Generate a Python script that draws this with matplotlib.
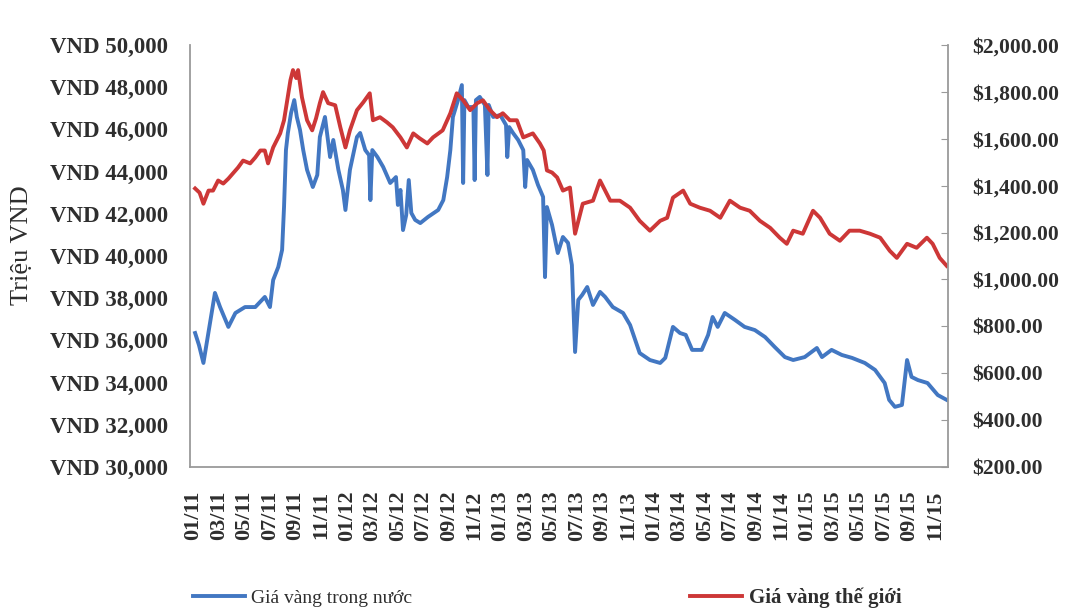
import matplotlib
matplotlib.use("Agg")
import matplotlib.pyplot as plt
from matplotlib.ticker import FuncFormatter
from matplotlib.lines import Line2D

# Domestic gold price (thousand VND), x in months since Jan 2011
dom_t = [0.15, 0.45, 0.8, 1.35, 1.7, 2.1, 2.75, 3.3, 4.05, 4.85,
         5.6, 6.0, 6.25, 6.65, 6.95, 7.1, 7.25, 7.4, 7.65, 7.9,
         8.1, 8.35, 8.6, 8.9, 9.35, 9.7, 9.9, 10.3, 10.7, 10.95,
         11.35, 11.7, 11.9, 12.25, 12.8, 13.05, 13.45, 13.75, 13.85, 14.0,
         14.4, 14.85, 15.4, 15.85, 16.0, 16.2, 16.4, 16.65, 16.85, 17.05,
         17.35, 17.75, 18.35, 19.15, 19.55, 19.85, 20.1, 20.3, 20.7, 21.0,
         21.1, 21.2, 21.5, 21.9, 22.0, 22.1, 22.4, 22.8, 23.0, 23.1,
         23.45, 24.0, 24.45, 24.55, 24.7, 25.0, 25.4, 25.8, 25.95, 26.1,
         26.55, 26.95, 27.35, 27.5, 27.65, 28.05, 28.5, 28.9, 29.3, 29.6,
         29.85, 30.1, 30.4, 30.8, 31.25, 31.8, 32.2, 32.8, 33.6, 34.15,
         34.55, 34.9, 35.7, 36.5, 36.9, 37.5, 38.05, 38.5, 39.0, 39.75,
         40.25, 40.6, 41.0, 41.55, 42.35, 43.1, 43.9, 44.7, 45.45, 46.25,
         46.9, 47.8, 48.75, 49.15, 49.9, 50.7, 51.5, 52.5, 53.3, 54.05,
         54.4, 54.85, 55.4, 55.8, 56.15, 56.65, 57.4, 58.2, 58.9]
dom_vnd = [36350, 35780, 34930, 36970, 38250, 37580, 36640, 37300, 37580, 37580,
           38060, 37580, 38860, 39480, 40290, 42320, 45020, 45830, 46780, 47390,
           46590, 45970, 45020, 44080, 43270, 43840, 45640, 46590, 44690, 45500,
           44080, 43130, 42180, 44080, 45640, 45830, 45020, 44780, 42650, 45020,
           44690, 44220, 43460, 43740, 42420, 43130, 41230, 41940, 43600, 42040,
           41710, 41560, 41850, 42180, 42650, 43740, 45020, 46590, 47390, 48100,
           43460, 47390, 47060, 47060, 43600, 47390, 47540, 47160, 43840, 47160,
           46590, 46680, 46210, 44690, 46110, 45830, 45500, 45020, 43270, 44550,
           44080, 43370, 42800, 39000, 42320, 41470, 40140, 40900, 40620, 39570,
           35450, 37920, 38150, 38530, 37680, 38300, 38060, 37580, 37300, 36730,
           36020, 35400, 35070, 34930, 35170, 36640, 36350, 36260, 35550, 35550,
           36260, 37110, 36640, 37300, 36970, 36640, 36490, 36160, 35690, 35210,
           35070, 35210, 35640, 35210, 35550, 35310, 35170, 34930, 34600, 33980,
           33180, 32850, 32940, 35070, 34270, 34120, 33980, 33410, 33180]

# World gold price (USD/oz)
wld_t = [0.15, 0.5, 0.8, 1.2, 1.55, 1.95, 2.35, 2.75, 3.1, 3.5,
         3.9, 4.45, 4.85, 5.25, 5.6, 5.85, 6.25, 6.8, 7.1, 7.35,
         7.6, 7.8, 8.05, 8.2, 8.5, 8.9, 9.3, 9.6, 9.9, 10.15,
         10.55, 11.1, 11.5, 11.9, 12.25, 12.8, 13.3, 13.8, 14.05, 14.6,
         15.15, 15.6, 16.2, 16.7, 17.2, 17.7, 18.3, 18.75, 19.5, 20.1,
         20.6, 21.1, 21.65, 22.2, 22.65, 23.2, 23.75, 24.2, 24.75, 25.3,
         25.8, 26.55, 27.1, 27.4, 27.65, 28.05, 28.45, 28.9, 29.45, 29.85,
         30.45, 31.25, 31.8, 32.6, 33.35, 34.15, 34.9, 35.7, 36.5, 37.05,
         37.5, 38.3, 38.85, 39.6, 40.4, 41.2, 41.95, 42.75, 43.5, 44.3,
         45.1, 45.85, 46.4, 46.9, 47.65, 48.45, 49.0, 49.75, 50.55, 51.3,
         52.1, 52.9, 53.7, 54.45, 55.0, 55.8, 56.55, 57.35, 57.8, 58.35,
         58.9]
wld_usd = [1388, 1370, 1323, 1379, 1379, 1422, 1409, 1430, 1452, 1477,
           1507, 1495, 1520, 1550, 1550, 1495, 1563, 1623, 1679, 1764,
           1850, 1893, 1859, 1893, 1777, 1679, 1636, 1687, 1752, 1799,
           1752, 1743, 1649, 1563, 1636, 1722, 1756, 1794, 1679, 1692,
           1670, 1649, 1606, 1563, 1623, 1602, 1580, 1606, 1636, 1709,
           1794, 1764, 1722, 1752, 1764, 1722, 1692, 1709, 1679, 1679,
           1606, 1623, 1580, 1550, 1465, 1456, 1435, 1379, 1392, 1195,
           1323, 1336, 1422, 1336, 1336, 1306, 1250, 1208, 1250, 1263,
           1349, 1379, 1323, 1306, 1293, 1263, 1336, 1306, 1293, 1250,
           1220, 1178, 1152, 1208, 1195, 1293, 1263, 1195, 1165, 1208,
           1208, 1195, 1178, 1122, 1092, 1152, 1135, 1178, 1152, 1092,
           1058]

tick_labels = ["01/11", "03/11", "05/11", "07/11", "09/11", "11/11",
               "01/12", "03/12", "05/12", "07/12", "09/12", "11/12",
               "01/13", "03/13", "05/13", "07/13", "09/13", "11/13",
               "01/14", "03/14", "05/14", "07/14", "09/14", "11/14",
               "01/15", "03/15", "05/15", "07/15", "09/15", "11/15"]

dom_name = "Giá vàng trong nước"
wld_name = "Giá vàng thế giới"
y_title = "Triệu VND"

BLUE = "#4277c2"
RED = "#cd3737"
TXT = "#2e2e2e"
SPINE = "#9a9a9a"
FONT = "Liberation Serif"

plt.rcParams["font.family"] = [FONT, "DejaVu Serif"]

fig = plt.figure(figsize=(10.72, 6.11), dpi=100)
fig.patch.set_facecolor("white")
W, H = 1072, 611
ax = fig.add_axes([190 / W, 1 - 467 / H, (948 - 190) / W, (467 - 45) / H])
ax2 = ax.twinx()

ax.plot(dom_t, dom_vnd, color=BLUE, lw=2.8, solid_joinstyle="round")
ax2.plot(wld_t, wld_usd, color=RED, lw=2.8, solid_joinstyle="round")

ax.set_xlim(-0.25, 59.0)
ax.set_ylim(30000, 50000)
ax2.set_ylim(200, 2000)

ax.set_yticks(range(30000, 50001, 2000))
ax.yaxis.set_major_formatter(FuncFormatter(lambda v, p: f"VND {v:,.0f}"))
ax2.set_yticks(range(200, 2001, 200))
ax2.yaxis.set_major_formatter(FuncFormatter(lambda v, p: f"${v:,.2f}"))

ax.set_xticks([2 * i for i in range(len(tick_labels))])
ax.set_xticklabels(tick_labels, rotation=90, fontweight="bold")
for lbl in ax.get_yticklabels() + ax2.get_yticklabels():
    lbl.set_fontweight("bold")

for a in (ax, ax2):
    a.spines["top"].set_visible(False)
    for s in ("left", "right", "bottom"):
        a.spines[s].set_color(SPINE)
        a.spines[s].set_linewidth(1.3)

ax.tick_params(axis="y", length=0, pad=15.5, labelsize=16.5, labelcolor=TXT)
ax.tick_params(axis="x", length=0, pad=17, labelsize=16, labelcolor=TXT)
ax2.tick_params(axis="y", direction="in", length=5, color=SPINE, pad=17.5,
                labelsize=15.5, labelcolor=TXT)
ax2.spines["left"].set_visible(False)
ax2.spines["bottom"].set_visible(False)
ax.spines["right"].set_visible(False)

fig.text(22 / W, 1 - 245 / H, y_title, rotation=90, ha="center", va="center",
         fontsize=19, color=TXT)

fig.legend([Line2D([], [], color=BLUE, lw=2.8)], [dom_name],
           loc="center left", bbox_to_anchor=(185 / W, 1 - 598 / H),
           borderaxespad=0, frameon=False, handlelength=2.7,
           handletextpad=0.3, labelcolor=TXT, prop={"size": 14})
fig.legend([Line2D([], [], color=RED, lw=2.8)], [wld_name],
           loc="center left", bbox_to_anchor=(682 / W, 1 - 598 / H),
           borderaxespad=0, frameon=False, handlelength=2.5,
           handletextpad=0.3, labelcolor=TXT,
           prop={"size": 15, "weight": "bold"})

fig.savefig("out.png", dpi=100, facecolor="white")
